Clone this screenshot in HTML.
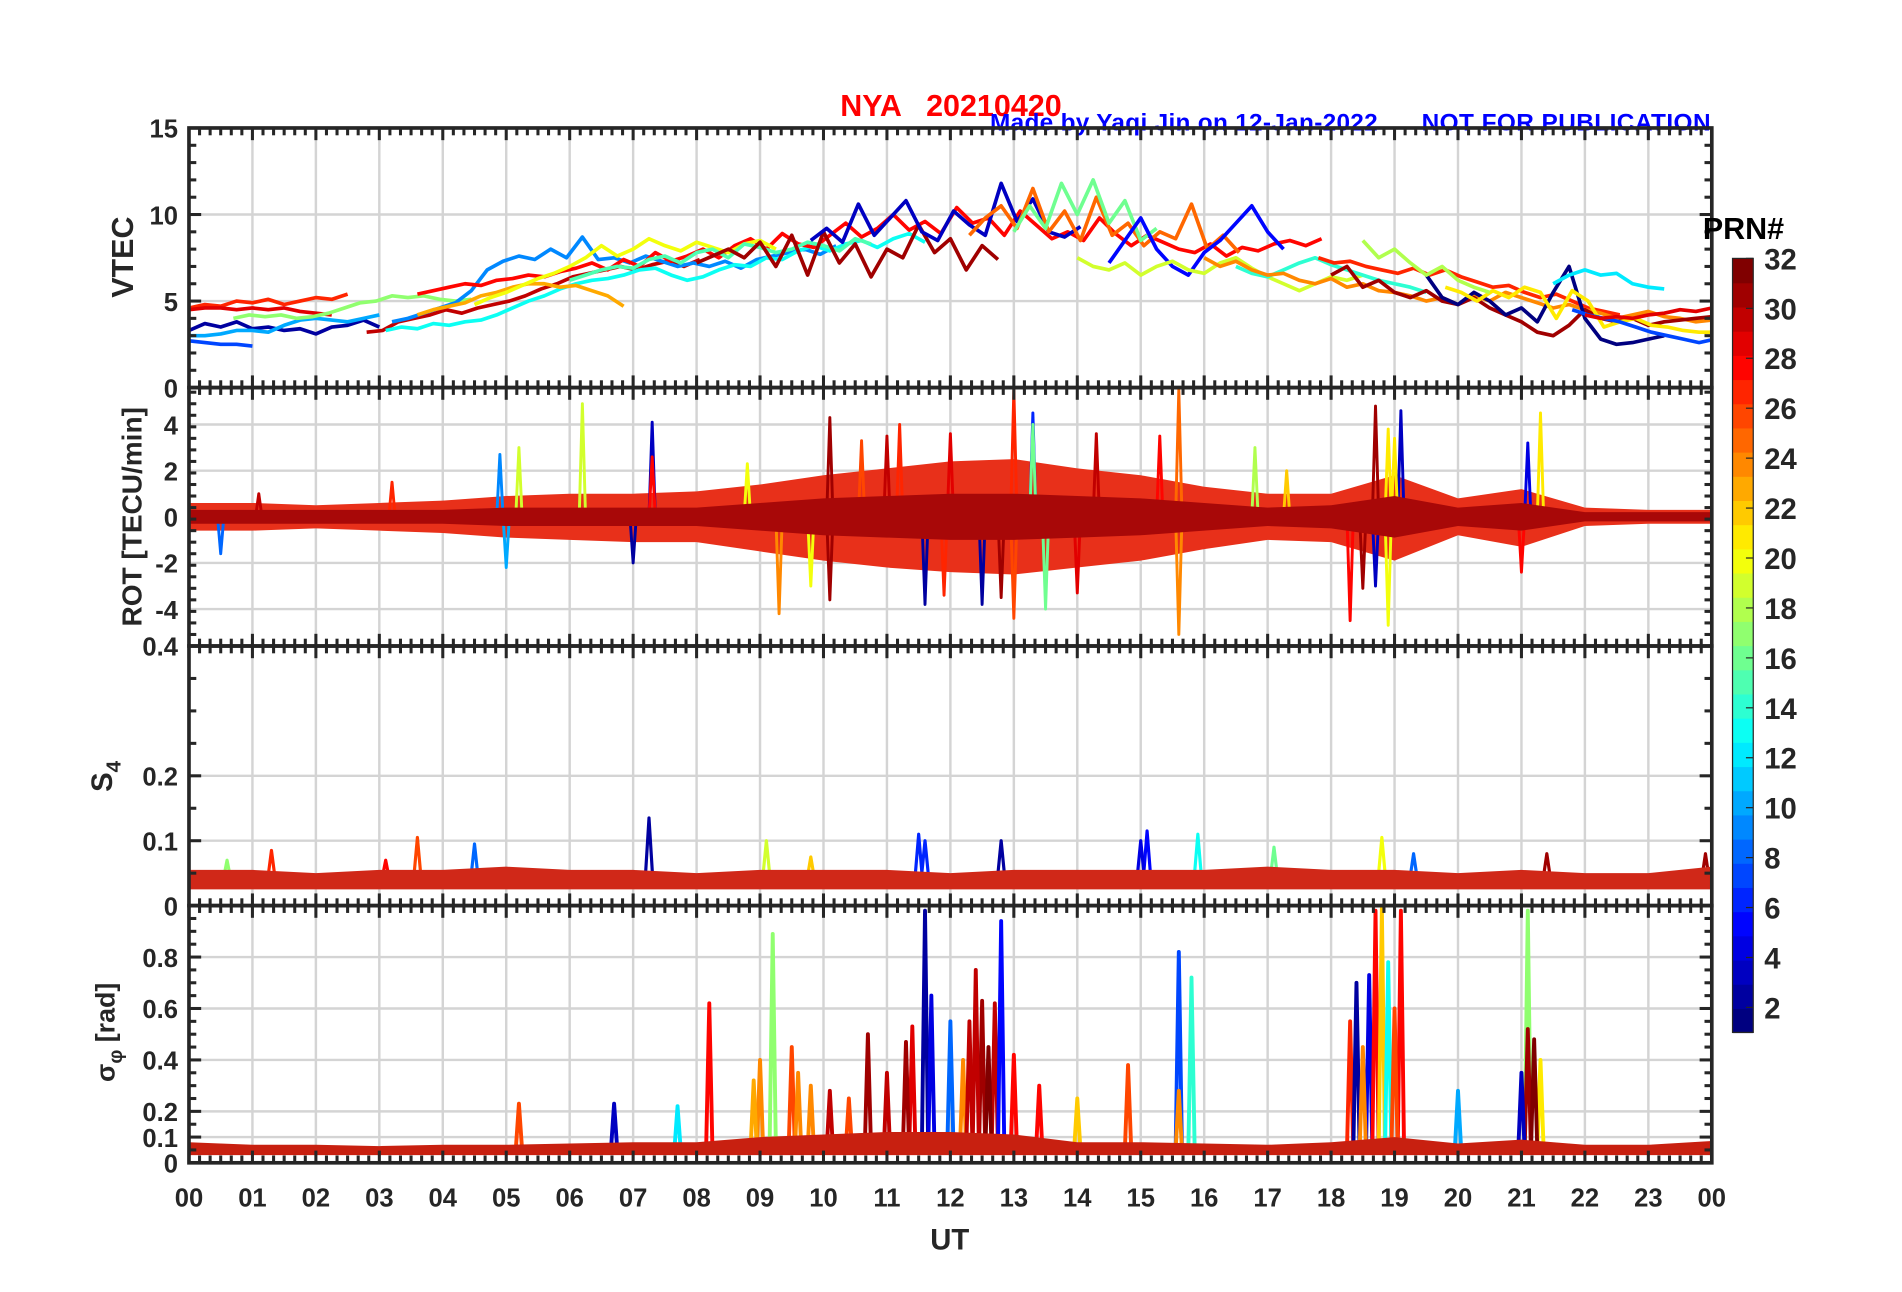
<!DOCTYPE html>
<html><head><meta charset="utf-8"><style>
html,body{margin:0;padding:0;background:#fff;}
svg{display:block;}
text{font-family:"Liberation Sans",Arial,sans-serif;font-weight:bold;}
</style></head><body>
<svg id="fig" width="1902" height="1292" viewBox="0 0 1560 1060" preserveAspectRatio="none" xmlns="http://www.w3.org/2000/svg">
<rect width="1560" height="1060" fill="#fff"/>
<text x="780" y="95" font-size="25" fill="#f00" text-anchor="middle" xml:space="preserve">NYA   20210420</text>
<text x="812" y="107" font-size="20" fill="#00f" textLength="318">Made by Yaqi Jin on 12-Jan-2022</text>
<text x="1166" y="107" font-size="20" fill="#00f" textLength="237">NOT FOR PUBLICATION</text>
<g id="panels"></g>
<g id="cbar"></g>
<text x="1430" y="196" font-size="25" fill="#000" text-anchor="middle">PRN#</text>
<text x="779" y="1025" font-size="24" fill="#262626" text-anchor="middle">UT</text>
<text transform="translate(109,211) rotate(-90)" font-size="25" fill="#262626" text-anchor="middle">VTEC</text>
<text transform="translate(116,424) rotate(-90)" font-size="23" fill="#262626" text-anchor="middle">ROT [TECU/min]</text>
<text transform="translate(92,637) rotate(-90)" font-size="24" fill="#262626" text-anchor="middle">S<tspan font-size="17" dy="7">4</tspan></text>
<text transform="translate(94,847) rotate(-90)" font-size="22" fill="#262626" text-anchor="middle">σ<tspan font-size="16" dy="6">φ</tspan><tspan dy="-6"> [rad]</tspan></text>
</svg>
<script>
// ---------- data ----------
const hourLabels=["00","01","02","03","04","05","06","07","08","09","10","11","12","13","14","15","16","17","18","19","20","21","22","23","00"];
const prnTicks=[2,4,6,8,10,12,14,16,18,20,22,24,26,28,30,32];
const vtecTicks=[0,5,10,15];
const rotTicks=[-4,-2,0,2,4];
const s4Ticks=[0,0.1,0.2,0.4];
const sigTicks=[0,0.1,0.2,0.4,0.6,0.8];
// VTEC series: prn, start hour, values every 0.25 h
const vtecPrn=[27,29,2,7,10,17,30,9,13,23,28,20,15,31,3,25,16,5,19,14,27,24,31,1,12,21,7,29,18];
const vtecStart=[0,0,0,0,0,0.7,2.8,3.2,3.1,3.6,3.6,4.5,6,8,9.8,12.3,13,14.5,14,16.5,17.8,16,18,19.5,21.5,19.8,21.8,22,18.5];
const vtecVals=[
[4.6,4.8,4.7,5.0,4.9,5.1,4.8,5.0,5.2,5.1,5.4],
[4.5,4.6,4.6,4.5,4.6,4.5,4.6,4.4,4.3,4.2],
[3.3,3.7,3.5,3.8,3.4,3.5,3.3,3.4,3.1,3.5,3.6,3.9,3.5],
[2.7,2.6,2.5,2.5,2.4],
[3.0,3.0,3.1,3.3,3.3,3.2,3.6,3.9,4.0,3.9,3.8,4.0,4.2],
[4.0,4.2,4.1,4.2,4.0,4.1,4.3,4.6,4.9,5.0,5.3,5.2,5.3,5.1,5.0,5.1],
[3.2,3.3,3.8,4.0,4.2,4.5,4.3,4.6,4.8,5.0,5.3,5.7,6.0,6.4,6.6,6.8,7.0,6.8,7.1,7.3,7.0,7.4],
[3.8,4.0,4.3,4.6,4.9,5.6,6.8,7.3,7.6,7.4,8.0,7.5,8.7,7.4,7.5,7.2,7.6,7.3,7.0,7.2,7.0,7.3,6.9,7.4,7.6,7.8,8.0,7.7,8.2],
[3.3,3.5,3.4,3.7,3.6,3.8,3.9,4.2,4.6,5.0,5.3,5.7,6.0,6.2,6.3,6.5,6.8,6.9,6.5,6.2,6.4,6.8,7.1,7.0,7.5,7.4,7.9,8.2,7.9,8.3,8.5,8.1,8.6,8.9,8.4],
[4.2,4.5,4.7,4.9,5.3,5.5,5.8,6.0,6.0,5.8,5.9,5.6,5.3,4.7],
[5.4,5.6,5.8,6.0,5.9,6.2,6.3,6.5,6.4,6.7,6.9,7.2,6.8,7.4,7.0,7.8,7.3,7.6,8.0,7.5,8.2,8.6,8.0,8.9,8.3,8.1,8.8,9.5,8.7,9.2,10.0,9.1,9.6,8.9,10.4,9.5,9.8,8.8,10.2,9.4,8.6,9.0,8.5,9.8,8.9,8.2,8.8,8.4,8.0,7.8,8.3,7.6,8.1,7.9,8.3,8.5,8.2,8.6],
[4.8,5.2,5.5,5.9,6.3,6.6,7.0,7.5,8.2,7.6,8.0,8.6,8.2,7.9,8.4,8.1,7.8,8.3,8.5,8.0],
[6.2,6.5,6.8,7.0,6.9,7.4,7.6,7.2,7.8,8.0,7.5,8.3,8.1,7.8,8.0,8.4,8.2,7.9,8.6,8.3],
[7.2,7.6,8.0,7.5,8.4,7.0,8.8,6.5,9.0,7.2,8.3,6.4,8.0,7.5,9.4,7.8,8.6,6.8,8.2,7.4],
[8.5,9.2,8.4,10.6,8.8,9.8,10.8,9.0,8.5,10.2,9.4,8.8,11.8,9.6,10.9,9.0,8.7,9.3],
[8.8,9.8,10.5,9.2,11.5,9.0,10.2,8.5,11.0,8.8,9.5,8.2,9.0,8.6,10.6,8.0,8.8,7.8],
[9.0,10.5,9.2,11.8,10.0,12.0,9.5,10.8,8.5,9.2],
[7.2,8.5,9.8,8.0,7.0,6.5,7.8,8.5,9.5,10.5,9.0,8.0],
[7.5,7.0,6.8,7.2,6.5,7.0,7.3,6.8,6.6,7.2,7.5,6.9,6.4,6.0,5.6,6.0,6.4,6.2,6.5],
[7.0,6.6,6.4,6.8,7.2,7.5,7.1,6.8,6.5,6.2,6.0,5.8,5.5],
[7.5,7.2,7.3,7.0,6.8,6.6,6.9,6.5,6.8,6.4,6.1,5.8,5.9,5.5,5.2,5.4,5.0,4.6,4.4,4.2],
[7.5,7.0,7.3,6.8,6.5,6.6,6.2,6.0,6.3,5.8,6.0,5.6,5.5,5.3,5.0,5.2,4.8,5.3,5.0,5.5,5.2,4.9,4.6,4.8,4.5,4.3,4.0,4.2,4.4,4.1,4.0,3.8,3.9,4.2],
[6.5,7.0,5.8,6.2,5.5,5.2,5.6,5.0,4.8,5.2,4.6,4.2,3.8,3.2,3.0,3.6,4.5,4.0,3.8,4.0,3.6,3.8,3.9,4.0,4.1,4.2,4.0,4.2],
[6.5,5.2,4.8,5.5,5.0,4.2,4.6,3.8,5.5,7.0,4.0,2.8,2.5,2.6,2.8,3.0],
[6.0,6.5,6.8,6.5,6.6,6.0,5.8,5.7],
[5.8,5.5,5.0,5.6,5.2,5.8,5.5,4.0,5.6,5.0,3.5,3.8,4.0,3.6,3.5,3.3,3.2,3.2,3.0,3.1,3.3],
[4.5,4.2,4.0,3.8,3.5,3.2,3.0,2.8,2.6,2.8,2.9],
[4.2,4.0,4.1,4.0,4.2,4.3,4.5,4.4,4.6],
[8.5,7.5,8.0,7.2,6.5,7.0,6.2,5.8,5.5]];
// ROT noise envelope at hour boundaries (TECU/min)
const rotUpper=[0.6,0.6,0.5,0.6,0.7,0.9,1.0,1.0,1.1,1.4,1.8,2.1,2.4,2.5,2.1,1.8,1.3,1.0,1.0,1.8,0.8,1.2,0.4,0.3,0.3];
const rotLower=[-0.6,-0.6,-0.5,-0.6,-0.7,-0.9,-1.0,-1.1,-1.1,-1.5,-1.9,-2.2,-2.4,-2.5,-2.2,-1.9,-1.4,-1.0,-1.1,-1.9,-0.8,-1.3,-0.4,-0.3,-0.3];
const rotCore=[0.3,0.3,0.3,0.3,0.3,0.4,0.4,0.4,0.4,0.6,0.8,0.9,1.0,1.0,0.9,0.8,0.6,0.4,0.5,0.9,0.4,0.6,0.2,0.2,0.2];
// ROT spikes
const rotSpikeT=[6.2,7.3,7.3,9.3,10.1,10.1,11.6,11.2,12.8,13.0,13.0,13.3,13.5,13.3,15.6,15.6,15.3,18.3,18.7,18.7,19.1,18.9,18.9,21.1,21.3,21.0,5.2,4.9,16.8,17.3,7.0,5.0,0.5,3.2,8.8,12.0,11.0,14.3,9.8,1.1,12.5,11.9,14.0,10.6,18.5,19.0];
const rotSpikeV=[4.9,4.1,2.6,-4.2,4.3,-3.6,-3.8,4.0,-3.5,5.5,-4.4,4.5,-4.0,4.0,5.5,-5.1,3.5,-4.5,4.8,-3.0,4.6,3.8,-4.7,3.2,4.5,-2.4,3.0,2.7,3.0,2.0,-2.0,-2.2,-1.6,1.5,2.3,3.6,3.5,3.6,-3.0,1.0,-3.8,-3.4,-3.3,3.3,-3.1,3.4];
const rotSpikeP=[19,3,28,24,31,31,2,27,31,27,26,6,16,16,25,24,28,28,31,3,3,21,20,4,21,28,19,9,18,22,2,10,8,27,20,29,30,30,20,30,2,27,29,26,31,21];
// S4 band (hour boundaries)
const s4Lower=[0.025,0.025,0.025,0.025,0.025,0.025,0.025,0.025,0.025,0.025,0.025,0.025,0.025,0.025,0.025,0.025,0.025,0.025,0.025,0.025,0.025,0.025,0.025,0.025,0.025];
const s4Upper=[0.055,0.055,0.05,0.055,0.055,0.06,0.055,0.055,0.05,0.055,0.055,0.055,0.05,0.055,0.055,0.055,0.055,0.06,0.055,0.055,0.05,0.055,0.05,0.05,0.06];
const s4SpikeT=[1.3,3.6,4.5,7.25,11.5,12.8,15.1,15.9,9.1,18.8,23.9,21.4,17.1,3.1,19.3,11.6,15.0,0.6,9.8];
const s4SpikeV=[0.085,0.105,0.095,0.135,0.11,0.10,0.115,0.11,0.10,0.105,0.08,0.08,0.09,0.07,0.08,0.10,0.10,0.07,0.075];
const s4SpikeP=[27,26,8,2,6,2,5,13,19,20,31,31,16,28,8,6,4,17,22];
// sigma-phi band and spikes
const sigLower=[0.03,0.03,0.03,0.03,0.03,0.03,0.03,0.03,0.03,0.03,0.03,0.03,0.03,0.03,0.03,0.03,0.03,0.03,0.03,0.03,0.03,0.03,0.03,0.03,0.03];
const sigUpper=[0.08,0.07,0.07,0.065,0.07,0.07,0.075,0.08,0.08,0.1,0.11,0.12,0.12,0.11,0.08,0.08,0.075,0.07,0.08,0.1,0.075,0.09,0.07,0.07,0.085];
const sigSpikeT=[8.2,9.2,9.0,9.5,9.6,10.1,10.7,11.4,11.6,11.7,12.0,12.5,12.4,12.7,12.8,13.0,12.2,14.0,15.6,15.8,15.6,14.8,18.3,18.4,18.6,18.7,18.8,18.9,19.1,19.0,18.5,20.0,21.1,21.1,21.0,21.3,5.2,6.7,7.7,11.3,10.4,12.3,12.6,9.8,8.9,11.0,13.4,21.2];
const sigSpikeV=[0.62,0.89,0.40,0.45,0.35,0.28,0.50,0.53,0.98,0.65,0.55,0.63,0.75,0.62,0.94,0.42,0.40,0.25,0.82,0.72,0.28,0.38,0.55,0.70,0.73,0.98,0.99,0.78,0.98,0.60,0.45,0.28,0.98,0.52,0.35,0.40,0.23,0.23,0.22,0.47,0.25,0.55,0.45,0.30,0.32,0.35,0.30,0.48];
const sigSpikeP=[28,17,24,26,24,30,31,29,2,4,8,31,30,30,5,28,24,22,7,14,24,26,27,2,4,28,22,13,28,26,24,10,17,31,3,21,26,3,12,31,26,30,32,24,23,30,28,32];

// ---------- helpers ----------
const NS="http://www.w3.org/2000/svg";
const X0=155,X1=1404;
const xs=h=>X0+(X1-X0)*h/24;
function jet(p){const t=(p-1)/31;const c=v=>Math.round(255*Math.max(0,Math.min(1,1.5-Math.abs(v))));return `rgb(${c(4*t-3)},${c(4*t-2)},${c(4*t-1)})`;}
function mk(tag,attrs,parent){const e=document.createElementNS(NS,tag);for(const k in attrs)e.setAttribute(k,attrs[k]);parent.appendChild(e);return e;}
const root=document.getElementById('panels');
const panels=[
 {name:'vtec',top:105,bot:318,min:0,max:15,ticks:vtecTicks,grid:[5,10],minor:1},
 {name:'rot',top:318,bot:530,min:-5.6,max:5.6,ticks:rotTicks,grid:[-4,-2,0,2,4],minor:0.5},
 {name:'s4',top:530,bot:743,min:0,max:0.4,ticks:s4Ticks,grid:[0.1,0.2],minor:0.05},
 {name:'sigma',top:743,bot:954,min:0,max:1,ticks:sigTicks,grid:[0.1,0.2,0.4,0.6,0.8],minor:0.05}];
panels.forEach(P=>{P.y=v=>P.bot-(P.bot-P.top)*(v-P.min)/(P.max-P.min);});
const defs=mk('defs',{},root);
panels.forEach((P,i)=>{const cp=mk('clipPath',{id:'clip'+i},defs);mk('rect',{x:X0,y:P.top,width:X1-X0,height:P.bot-P.top},cp);});

// grids
panels.forEach((P,i)=>{
 const g=mk('g',{},root);
 
 
 for(let h=1;h<24;h++)mk('line',{x1:xs(h),x2:xs(h),y1:P.top,y2:P.bot,stroke:'#d4d4d4','stroke-width':2},g);
 P.grid.forEach(v=>mk('line',{x1:X0,x2:X1,y1:P.y(v),y2:P.y(v),stroke:'#d4d4d4','stroke-width':2},g));
});

function bandPath(P,lo,hi){let d='';for(let h=0;h<=24;h++)d+=(h?'L':'M')+xs(h)+','+P.y(hi[h]);for(let h=24;h>=0;h--)d+='L'+xs(h)+','+P.y(lo[h]);return d+'Z';}
function spikes(P,g,T,V,Pr,base,w,sw){T.forEach((t,k)=>{const e=mk('polyline',{points:`${xs(t-w)},${P.y(base)} ${xs(t)},${P.y(V[k])} ${xs(t+w)},${P.y(base)}`,fill:'none',stroke:jet(Pr[k]),'stroke-width':sw,'stroke-linejoin':'round'},g);
 
 });}

// VTEC
{const P=panels[0];const g=mk('g',{'clip-path':'url(#clip0)'},root);
 
 
 vtecVals.forEach((vals,k)=>{const pts=vals.map((v,j)=>xs(vtecStart[k]+j*0.25)+','+P.y(v)).join(' ');
  const e=mk('polyline',{points:pts,fill:'none',stroke:jet(vtecPrn[k]),'stroke-width':3,'stroke-linejoin':'round'},g);
  
  });}
// ROT
{const P=panels[1];const g=mk('g',{'clip-path':'url(#clip1)'},root);
 
 
 const neg=rotCore.map(v=>-v);
 const b1=mk('path',{d:bandPath(P,rotLower,rotUpper),fill:'#e8301a'},g);
 
 
 spikes(P,g,rotSpikeT,rotSpikeV,rotSpikeP,0,0.05,2.4);
 const b2=mk('path',{d:bandPath(P,neg,rotCore),fill:'#a80808'},g);
 
 }
// S4
{const P=panels[2];const g=mk('g',{'clip-path':'url(#clip2)'},root);
 
 
 spikes(P,g,s4SpikeT,s4SpikeV,s4SpikeP,0.04,0.06,2.6);
 const b=mk('path',{d:bandPath(P,s4Lower,s4Upper),fill:'#d02818'},g);
 
 }
// sigma
{const P=panels[3];const g=mk('g',{'clip-path':'url(#clip3)'},root);
 
 
 spikes(P,g,sigSpikeT,sigSpikeV,sigSpikeP,0.05,0.05,3.2);
 const b=mk('path',{d:bandPath(P,sigLower,sigUpper),fill:'#c82010'},g);
 
 }

// axes, ticks, labels
const ax=mk('g',{stroke:'#262626'},root);


panels.forEach(P=>{
 mk('rect',{x:X0,y:P.top,width:X1-X0,height:P.bot-P.top,fill:'none','stroke-width':3},ax);
 for(let m=0;m<=144;m++){const x=xs(m/6),L=(m%6===0)?10:6;
  mk('line',{x1:x,x2:x,y1:P.top,y2:P.top+L,'stroke-width':2.5},ax);
  mk('line',{x1:x,x2:x,y1:P.bot,y2:P.bot-L,'stroke-width':2.5},ax);}
 for(let v=P.min;v<=P.max+1e-9;v+=P.minor){const y=P.y(v);const major=P.ticks.some(t=>Math.abs(t-v)<1e-6);const L=major?10:6;
  mk('line',{x1:X0,x2:X0+L,y1:y,y2:y,'stroke-width':2.5},ax);
  mk('line',{x1:X1,x2:X1-L,y1:y,y2:y,'stroke-width':2.5},ax);}
 P.ticks.forEach(t=>{const e=mk('text',{x:146,y:P.y(t)+8,'font-size':21,fill:'#262626',stroke:'none','text-anchor':'end'},root);e.textContent=String(t);
  
  });
});
hourLabels.forEach((s,h)=>{const e=mk('text',{x:xs(h),y:990,'font-size':21,fill:'#262626','text-anchor':'middle'},root);e.textContent=s;
 
 });

// colorbar
const cb=document.getElementById('cbar');
const CY0=847,CY1=212,cy=v=>CY0-(CY0-CY1)*(v-1)/31;
for(let p=1;p<=32;p++){const h=(CY0-CY1)/32;const r=mk('rect',{x:1421,y:CY0-p*h,width:17,height:h+0.6,fill:jet(p)},cb);
 
 }
mk('rect',{x:1421,y:CY1,width:17,height:CY0-CY1,fill:'none',stroke:'#262626','stroke-width':1},cb);
prnTicks.forEach(v=>{mk('line',{x1:1432,x2:1438,y1:cy(v),y2:cy(v),stroke:'#262626','stroke-width':1},cb);
 const e=mk('text',{x:1447,y:cy(v)+9,'font-size':24,fill:'#262626'},cb);e.textContent=v;
 
 });
</script>
</body></html>
